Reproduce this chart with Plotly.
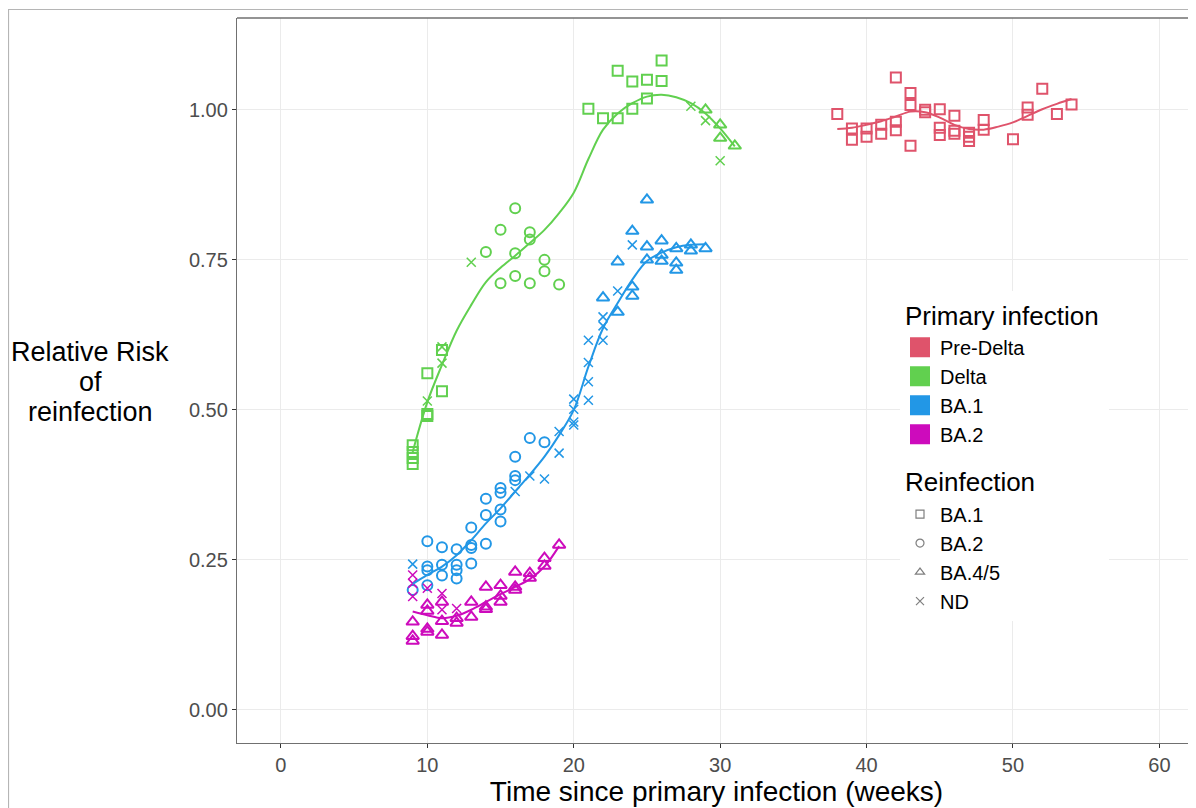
import plotly.graph_objects as go

# ---------------- data ----------------
# Pre-Delta primary infection (red), reinfection BA.1
pre_ba1_x = [38, 39, 39, 40, 40, 41, 41, 42, 42, 42, 43, 43, 43, 44, 44, 45, 45, 45,
             46, 46, 46, 47, 47, 47, 48, 48, 50, 51, 51, 52, 53, 54]
pre_ba1_y = [0.993, 0.969, 0.950, 0.969, 0.955, 0.975, 0.960, 1.054, 0.980, 0.966,
             1.028, 1.008, 0.940, 1.000, 0.996, 1.001, 0.970, 0.958, 0.990, 0.965,
             0.960, 0.962, 0.955, 0.948, 0.983, 0.967, 0.951, 1.004, 0.992, 1.035,
             0.993, 1.009]
pre_fit_x = [38, 39, 40, 41, 42, 43, 44, 45, 46, 47, 48, 49, 50, 51, 52, 53, 54]
pre_fit_y = [0.968, 0.970, 0.975, 0.981, 0.989, 0.997, 0.996, 0.987, 0.975, 0.968,
             0.967, 0.972, 0.979, 0.990, 1.001, 1.010, 1.018]

# Delta primary infection (green)
delta_ba1_x = [9, 9, 9, 9, 10, 10, 10, 11, 11, 21, 22, 23, 23, 24, 24, 25, 25, 26, 26]
delta_ba1_y = [0.441, 0.430, 0.420, 0.410, 0.490, 0.493, 0.561, 0.531, 0.600, 1.002,
               0.986, 0.986, 1.065, 1.047, 1.002, 1.050, 1.019, 1.082, 1.048]
delta_ba2_x = [14, 15, 15, 16, 16, 16, 17, 17, 17, 18, 18, 19]
delta_ba2_y = [0.763, 0.800, 0.711, 0.836, 0.761, 0.723, 0.796, 0.784, 0.711, 0.750,
               0.731, 0.709]
delta_ba45_x = [29, 30, 30, 31]
delta_ba45_y = [1.000, 0.975, 0.953, 0.940]
delta_nd_x = [10, 11, 11, 13, 28, 29, 30]
delta_nd_y = [0.515, 0.605, 0.578, 0.746, 1.006, 0.982, 0.915]
delta_fit_x = list(range(9, 32))
delta_fit_y = [0.430, 0.513, 0.575, 0.632, 0.675, 0.713, 0.737, 0.757, 0.778, 0.800,
               0.828, 0.862, 0.918, 0.967, 0.994, 1.011, 1.022, 1.025, 1.021, 1.011,
               0.994, 0.969, 0.939]

# BA.1 primary infection (blue)
ba1_ba2_x = [9, 10, 10, 10, 10, 11, 11, 11, 12, 12, 12, 12, 13, 13, 13, 13,
             14, 14, 14, 15, 15, 15, 15, 16, 16, 16, 17, 18]
ba1_ba2_y = [0.200, 0.281, 0.239, 0.233, 0.208, 0.271, 0.242, 0.224, 0.268, 0.242,
             0.233, 0.219, 0.304, 0.275, 0.270, 0.244, 0.352, 0.325, 0.277, 0.370,
             0.362, 0.334, 0.314, 0.422, 0.390, 0.383, 0.453, 0.446]
ba1_ba45_x = [22, 23, 23, 24, 24, 24, 25, 25, 25, 26, 26, 26, 27, 27, 27, 28, 28, 29]
ba1_ba45_y = [0.687, 0.747, 0.663, 0.798, 0.705, 0.690, 0.850, 0.772, 0.750, 0.782,
              0.758, 0.748, 0.769, 0.745, 0.733, 0.775, 0.765, 0.769]
ba1_nd_x = [9, 16, 17, 18, 19, 19, 20, 20, 20, 20, 21, 21, 21, 21, 22, 22, 22, 23, 24]
ba1_nd_y = [0.243, 0.364, 0.390, 0.385, 0.428, 0.464, 0.518, 0.501, 0.480, 0.475,
            0.616, 0.579, 0.547, 0.516, 0.655, 0.640, 0.616, 0.698, 0.775]
ba1_fit_x = list(range(9, 30))
ba1_fit_y = [0.210, 0.225, 0.239, 0.258, 0.283, 0.311, 0.336, 0.364, 0.392, 0.422,
             0.458, 0.500, 0.572, 0.636, 0.678, 0.717, 0.748, 0.762, 0.771, 0.775,
             0.776]

# BA.2 primary infection (magenta)
ba2_ba45_x = [9, 9, 9, 10, 10, 10, 10, 11, 11, 11, 12, 12, 13, 13, 14, 14, 14,
              15, 15, 15, 16, 16, 16, 17, 17, 18, 18, 19]
ba2_ba45_y = [0.147, 0.123, 0.115, 0.175, 0.165, 0.135, 0.130, 0.180, 0.148, 0.125,
              0.153, 0.145, 0.180, 0.155, 0.205, 0.172, 0.168, 0.208, 0.190, 0.180,
              0.230, 0.205, 0.200, 0.228, 0.220, 0.253, 0.240, 0.275]
ba2_nd_x = [9, 9, 9, 10, 11, 11, 12]
ba2_nd_y = [0.225, 0.211, 0.189, 0.203, 0.194, 0.167, 0.169]
ba2_fit_x = list(range(9, 20))
ba2_fit_y = [0.164, 0.158, 0.153, 0.157, 0.167, 0.180, 0.193, 0.205, 0.218, 0.239,
             0.273]

primary_names = ["Pre-Delta", "Delta", "BA.1", "BA.2"]
primary_colors = ["#DF536B", "#61D04F", "#2297E6", "#CD0BBC"]
reinf_names = ["BA.1", "BA.2", "BA.4/5", "ND"]
reinf_symbols = ["square-open", "circle-open", "triangle-up-open", "x-thin-open"]
reinf_sizes = [10, 10, 11, 9]
reinf_widths = [2, 2, 2, 1.5]

x_ticks = [0, 10, 20, 30, 40, 50, 60]
y_ticks = [0.0, 0.25, 0.5, 0.75, 1.0]
y_tick_labels = ["0.00", "0.25", "0.50", "0.75", "1.00"]
y_title_lines = ["Relative Risk", "of", "reinfection"]

points = [
    # (primary index, reinfection index, x, y)
    (0, 0, pre_ba1_x, pre_ba1_y),
    (1, 0, delta_ba1_x, delta_ba1_y),
    (1, 1, delta_ba2_x, delta_ba2_y),
    (1, 2, delta_ba45_x, delta_ba45_y),
    (1, 3, delta_nd_x, delta_nd_y),
    (2, 1, ba1_ba2_x, ba1_ba2_y),
    (2, 2, ba1_ba45_x, ba1_ba45_y),
    (2, 3, ba1_nd_x, ba1_nd_y),
    (3, 2, ba2_ba45_x, ba2_ba45_y),
    (3, 3, ba2_nd_x, ba2_nd_y),
]
fits = [
    (0, pre_fit_x, pre_fit_y),
    (1, delta_fit_x, delta_fit_y),
    (2, ba1_fit_x, ba1_fit_y),
    (3, ba2_fit_x, ba2_fit_y),
]

FONT = "Liberation Sans, Arial, Helvetica, sans-serif"

fig = go.Figure()

for pi, ri, xs, ys in points:
    col = primary_colors[pi]
    fig.add_trace(go.Scatter(
        x=xs, y=ys, mode="markers", showlegend=False, hoverinfo="x+y",
        marker=dict(symbol=reinf_symbols[ri], size=reinf_sizes[ri], color=col,
                    line=dict(width=reinf_widths[ri], color=col)),
    ))

for pi, xs, ys in fits:
    fig.add_trace(go.Scatter(
        x=xs, y=ys, mode="lines", showlegend=False, hoverinfo="skip",
        line=dict(color=primary_colors[pi], width=2, shape="spline", smoothing=1.0),
    ))

# legend entries
for i, (name, col) in enumerate(zip(primary_names, primary_colors)):
    fig.add_trace(go.Scatter(
        x=[None], y=[None], mode="markers", name=name,
        legendgroup="primary", legendrank=1 + i,
        legendgrouptitle=dict(text="Primary infection",
                              font=dict(size=26, color="black", family=FONT)),
        marker=dict(symbol="square", size=16, color=col, line=dict(width=4, color=col)),
    ))
for i, (name, sym) in enumerate(zip(reinf_names, reinf_symbols)):
    fig.add_trace(go.Scatter(
        x=[None], y=[None], mode="markers", name=name,
        legendgroup="reinf", legendrank=10 + i,
        legendgrouptitle=dict(text="Reinfection",
                              font=dict(size=26, color="black", family=FONT)),
        marker=dict(symbol=sym, size=8, color="#7f7f7f",
                    line=dict(width=1.2, color="#7f7f7f")),
    ))

# page offset of the figure inside the browser window (body margin)
OFF = 8
W, H = 1196 - OFF, 808 - OFF
L = 237 - OFF
T = 18 - OFF
B = H - (743 - OFF)
pw = W - L
ph = H - T - B


def px_x(p):
    """page pixel x -> paper coordinate"""
    return (p - OFF - L) / pw


def px_y(p):
    """page pixel y -> paper coordinate"""
    return (H - B - (p - OFF)) / ph


annotations = []
for line_text, py in zip(y_title_lines, [352, 382, 412]):
    annotations.append(dict(
        text=line_text, xref="paper", yref="paper",
        x=px_x(90), y=px_y(py), xanchor="center", yanchor="middle",
        showarrow=False, align="center",
        font=dict(size=27, color="black", family=FONT),
    ))

fig.update_layout(
    width=W, height=H,
    margin=dict(l=L, r=0, t=T, b=B, pad=0),
    paper_bgcolor="white", plot_bgcolor="white",
    font=dict(family=FONT, color="black"),
    showlegend=True,
    legend=dict(
        x=px_x(900), y=px_y(291), xanchor="left", yanchor="top",
        bgcolor="white", borderwidth=0,
        font=dict(size=20, color="black", family=FONT),
        traceorder="grouped", tracegroupgap=14,
        itemwidth=30,
    ),
    xaxis=dict(
        range=[-3, 62.5], tickvals=x_ticks, ticktext=[str(v) for v in x_ticks],
        showgrid=True, gridcolor="#ebebeb", gridwidth=1, zeroline=False,
        showline=True, linecolor="#707070", linewidth=1.3, mirror=False,
        ticks="outside", ticklen=4, tickcolor="#333333", tickwidth=1,
        tickfont=dict(size=20, color="#4d4d4d", family=FONT),
        title=dict(text="Time since primary infection (weeks)",
                   font=dict(size=28, color="black", family=FONT), standoff=4),
    ),
    yaxis=dict(
        range=[-0.055, 1.153], tickvals=y_ticks, ticktext=y_tick_labels,
        showgrid=True, gridcolor="#ebebeb", gridwidth=1, zeroline=False,
        showline=True, linecolor="#707070", linewidth=1.3, mirror=False,
        ticks="outside", ticklen=4, tickcolor="#333333", tickwidth=1,
        tickfont=dict(size=20, color="#4d4d4d", family=FONT),
    ),
    annotations=annotations,
    shapes=[
        dict(type="rect", xref="paper", yref="paper",
             x0=px_x(8.5), x1=px_x(1220), y0=px_y(840), y1=px_y(9.5),
             line=dict(color="#b5b5b5", width=1.2), fillcolor="rgba(0,0,0,0)",
             layer="below"),
        # top edge of the panel (the right edge lies outside the picture)
        dict(type="line", xref="paper", yref="paper",
             x0=0, x1=1.02, y0=1, y1=1,
             line=dict(color="#707070", width=1.3)),
    ],
)

fig.write_html("out.html")
